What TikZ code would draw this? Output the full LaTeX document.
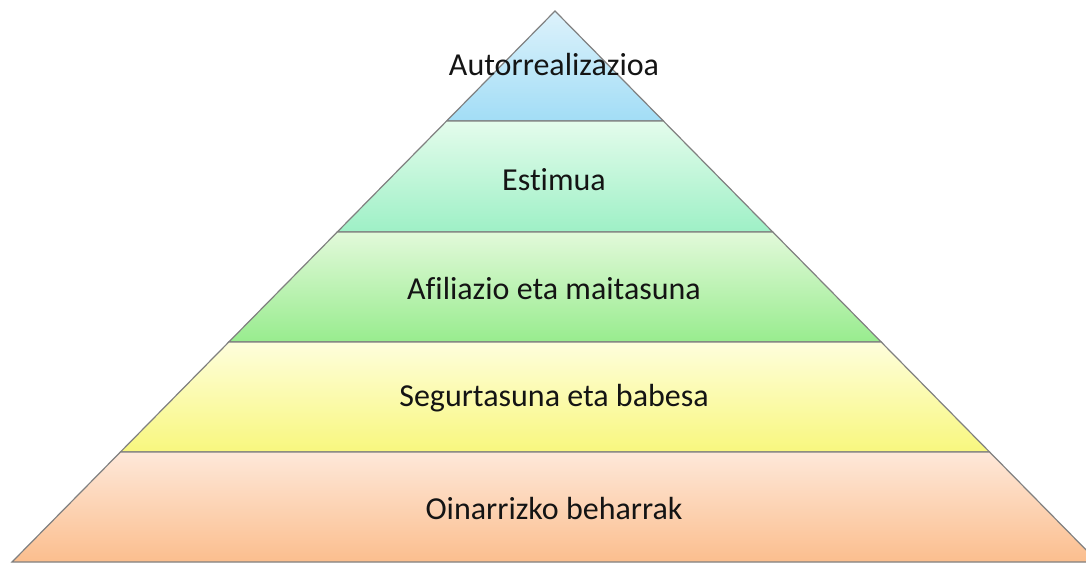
\documentclass[tikz,border=0pt]{standalone}
\usepackage{fontspec}
\setmainfont{Carlito}[Ligatures=NoCommon]
\begin{document}
\begin{tikzpicture}[x=1pt,y=-1pt,
  level/.style={draw=black!50,line width=1.2pt,line join=miter},
  lbl/.style={font=\fontsize{32}{36}\selectfont,text=black!92,inner sep=0pt}]
\useasboundingbox (0,0) rectangle (1086,563);
\clip (0,0) rectangle (1086,563);
\def\ax{555}\def\ay{11}
\pgfmathsetmacro{\k}{543/551}
\definecolor{cTa}{HTML}{DDF2FB}\definecolor{cBa}{HTML}{A2DDF6}
\definecolor{cTb}{HTML}{E4FCEC}\definecolor{cBb}{HTML}{9EF0C6}
\definecolor{cTc}{HTML}{E2F9DA}\definecolor{cBc}{HTML}{98EC8E}
\definecolor{cTd}{HTML}{FEFEDC}\definecolor{cBd}{HTML}{F8F77E}
\definecolor{cTe}{HTML}{FEE8D9}\definecolor{cBe}{HTML}{FBBE8E}
\path[level,top color=cTa,bottom color=cBa] (\ax,\ay) -- ({\ax+110*\k},121) -- ({\ax-110*\k},121) -- cycle;
\path[level,top color=cTb,bottom color=cBb] ({\ax-110*\k},121) -- ({\ax+110*\k},121) -- ({\ax+221*\k},232) -- ({\ax-221*\k},232) -- cycle;
\path[level,top color=cTc,bottom color=cBc] ({\ax-221*\k},232) -- ({\ax+221*\k},232) -- ({\ax+331*\k},342) -- ({\ax-331*\k},342) -- cycle;
\path[level,top color=cTd,bottom color=cBd] ({\ax-331*\k},342) -- ({\ax+331*\k},342) -- ({\ax+441*\k},452) -- ({\ax-441*\k},452) -- cycle;
\path[level,top color=cTe,bottom color=cBe] ({\ax-441*\k},452) -- ({\ax+441*\k},452) -- ({\ax+551*\k},562) -- ({\ax-551*\k},562) -- cycle;
\node[lbl] (t1) at (554,65) {Autorrealizazioa};
\node[lbl] (t2) at (554,180) {Estimua};
\node[lbl] (t3) at (554,289) {Afiliazio eta maitasuna};
\node[lbl] (t4) at (554,398) {Segurtasuna eta babesa};
\node[lbl] (t5) at (554,508) {Oinarrizko beharrak};
\end{tikzpicture}
\end{document}
